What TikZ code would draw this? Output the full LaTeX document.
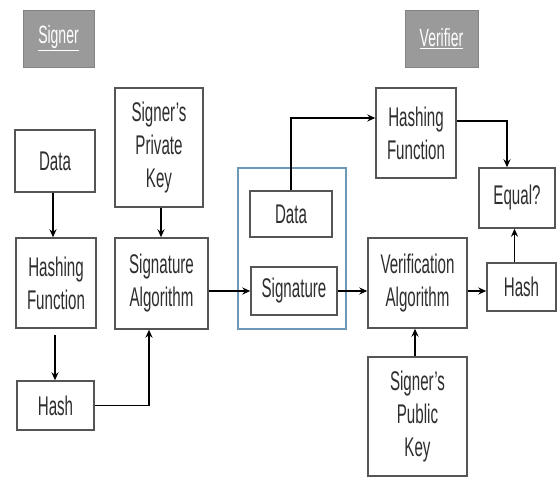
\documentclass[tikz,border=0pt]{standalone}
\usepackage{fontspec}
\setmainfont{Liberation Sans}[FakeStretch=0.56]
\usetikzlibrary{arrows.meta,calc}
\definecolor{boxline}{HTML}{555555}
\definecolor{labfill}{HTML}{9A9A9A}
\definecolor{contline}{HTML}{6E98B8}
\definecolor{txt}{HTML}{2E2E2E}
\begin{document}
\begin{tikzpicture}[x=1pt,y=1pt,
  box/.style={draw=boxline,line width=1.4pt,fill=white,align=center,inner sep=0pt,
    text=txt,font=\fontsize{27}{33}\selectfont},
  lab/.style={fill=labfill,draw=labfill!85!black,line width=0.8pt,inner sep=0pt,text=white,
    font=\fontsize{25}{28}\selectfont},
  arr/.style={line width=1.6pt,-{Stealth[length=8pt,width=7pt]}}]
\useasboundingbox (0,0) rectangle (558,-479);
% labels
\node[lab,minimum width=71,minimum height=57] (slab) at (58.5,-38.5) {\underline{Signer}};
\node[lab,minimum width=73,minimum height=57] (vlab) at (441.5,-38.5) {\underline{Verifier}};
% container
\node[draw=contline,line width=1.2pt,minimum width=108,minimum height=161,inner sep=0pt] (cont) at (292,-248.5) {};
% signer side
\node[box,minimum width=80,minimum height=62] (data1) at (55,-161) {Data};
\node[box,minimum width=80,minimum height=90] (hfn1) at (56,-283) {Hashing\\Function};
\node[box,minimum width=77,minimum height=49] (hash1) at (55.5,-405.5) {Hash};
\node[box,minimum width=88,minimum height=119] (priv) at (159,-147.5) {Signer's\\Private\\Key};
\node[box,minimum width=93,minimum height=91] (salg) at (161.5,-283.5) {Signature\\Algorithm};
% middle
\node[box,minimum width=82,minimum height=46] (data2) at (291,-214) {Data};
\node[box,minimum width=86,minimum height=48] (sig2) at (294,-291) {Signature};
% verifier side
\node[box,minimum width=80,minimum height=90] (hfn2) at (416,-133) {Hashing\\Function};
\node[box,minimum width=99,minimum height=90] (valg) at (417.5,-283) {Verification\\Algorithm};
\node[box,minimum width=99,minimum height=119] (pub) at (417.5,-416.5) {Signer's\\Public\\Key};
\node[box,minimum width=76,minimum height=60] (eq) at (517,-198) {Equal?};
\node[box,minimum width=69,minimum height=48] (hash2) at (521.5,-287) {Hash};
% connectors
\draw[arr] ([xshift=-2pt]data1.south) -- ([xshift=-2pt]data1.south |- hfn1.north);
\draw[arr] ([xshift=-1pt,yshift=-6pt]hfn1.south) -- ([xshift=-1pt]hfn1.south |- hash1.north);
\draw[arr] ([xshift=2pt]priv.south) -- ([xshift=2pt]priv.south |- salg.north);
\coordinate (hs) at ([xshift=-12.5pt]salg.south);
\draw[arr] (hash1.east) -| (hs);
\draw[arr] (salg.east |- sig2.west) -- (sig2.west);
\draw[arr] (sig2.east) -- (sig2.east -| valg.west);
\draw[arr] ([yshift=-4pt]hash2.west -| valg.east) -- ([yshift=-4pt]hash2.west);
\draw[arr] ([xshift=-7pt]hash2.north) -- ([xshift=-7pt]hash2.north |- eq.south);
\draw[arr] ([xshift=-2.5pt]pub.north) -- ([xshift=-2.5pt]pub.north |- valg.south);
\coordinate (hin) at ([yshift=15pt]hfn2.west);
\draw[arr] (data2.north) |- (hin);
\coordinate (hout) at ([yshift=12pt]hfn2.east);
\coordinate (eqin) at ([xshift=-10pt]eq.north);
\draw[arr] (hout) -| (eqin);
\end{tikzpicture}
\end{document}
